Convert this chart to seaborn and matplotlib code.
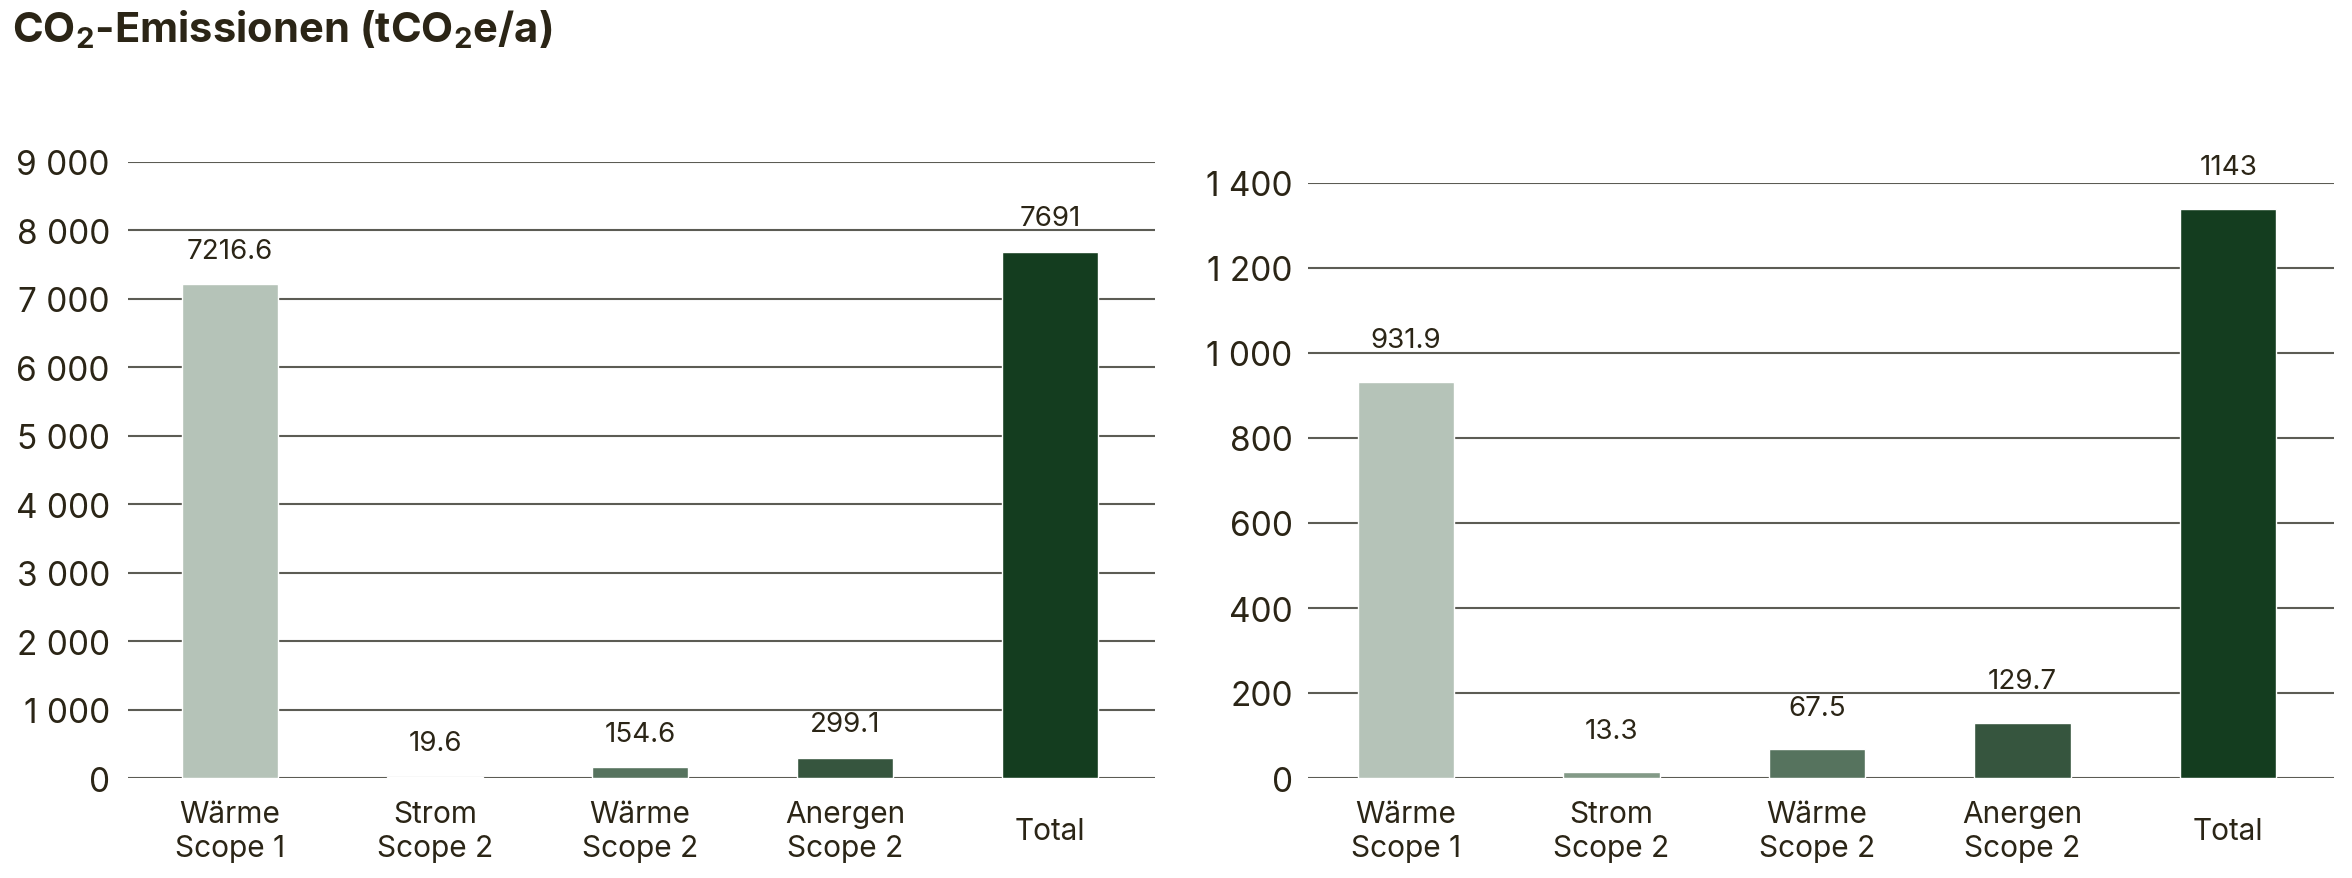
import matplotlib
matplotlib.use("Agg")
import matplotlib.pyplot as plt
import seaborn as sns
import pandas as pd
from matplotlib.ticker import FuncFormatter, MultipleLocator

# ---------------- data ----------------
categories = ["Wärme\nScope 1", "Strom\nScope 2", "Wärme\nScope 2", "Anergen\nScope 2", "Total"]
left_values = [7216.6, 19.6, 154.6, 299.1, 7691]
left_labels = ["7216.6", "19.6", "154.6", "299.1", "7691"]
right_values = [931.9, 13.3, 67.5, 129.7, 1340]
right_labels = ["931.9", "13.3", "67.5", "129.7", "1143"]
bar_colors = ["#b5c3b8", "#839a87", "#56735e", "#36553e", "#143d1f"]
title_text = r"CO$_\mathbf{2}$-Emissionen (tCO$_\mathbf{2}$e/a)"

TEXT = "#2b2516"
GRID = "#5c5c54"

sns.set_theme(style="white")
plt.rcParams["font.family"] = ["Inter", "Roboto", "DejaVu Sans"]
plt.rcParams["mathtext.fontset"] = "custom"
plt.rcParams["mathtext.rm"] = "Inter"
plt.rcParams["mathtext.bf"] = "Inter:bold"
plt.rcParams["text.color"] = TEXT
plt.rcParams["xtick.color"] = TEXT
plt.rcParams["ytick.color"] = TEXT

W, H = 2352, 879
fig = plt.figure(figsize=(W / 100, H / 100), dpi=100)
fig.patch.set_facecolor("white")


def px_axes(x0, x1, y0, y1):
    return fig.add_axes([x0 / W, 1 - y0 / H, (x1 - x0) / W, (y0 - y1) / H])


ax1 = px_axes(128, 1155, 779, 163)
ax2 = px_axes(1308, 2334, 779, 184)


def space_fmt(v, pos):
    return f"{int(round(v)):,}".replace(",", " ")


def draw(ax, values, labels, ymax, step, xlim, label_off, ypad):
    df = pd.DataFrame({"cat": categories, "val": values})
    sns.barplot(data=df, x="cat", y="val", hue="cat", palette=bar_colors,
                order=categories, hue_order=categories, width=0.468,
                legend=False, ax=ax, saturation=1, zorder=3)
    ax.set_ylim(0, ymax)
    ax.set_xlim(*xlim)
    ax.yaxis.set_major_locator(MultipleLocator(step))
    ax.yaxis.set_major_formatter(FuncFormatter(space_fmt))
    ax.grid(axis="y", color=GRID, linewidth=1.5, zorder=0)
    ax.grid(axis="x", visible=False)
    for s in ax.spines.values():
        s.set_visible(False)
    ax.set_xlabel("")
    ax.set_ylabel("")
    ax.set_facecolor("none")
    ax.tick_params(axis="y", length=0, pad=ypad, labelsize=24, labelcolor=TEXT)
    ax.tick_params(axis="x", length=0, pad=38, labelsize=21.5, labelcolor=TEXT)
    for lbl in ax.get_xticklabels():
        lbl.set_verticalalignment("center")
        lbl.set_linespacing(1.25)
    for i, (v, t) in enumerate(zip(values, labels)):
        ax.annotate(t, xy=(i, v), xytext=(0, label_off), textcoords="offset points",
                    ha="center", va="center", fontsize=20, color=TEXT,
                    annotation_clip=False)


draw(ax1, left_values, left_labels, 9000, 1000, (-0.498, 4.512), 24, 13)
draw(ax2, right_values, right_labels, 1400, 200, (-0.476, 4.515), 30, 11)

fig.text(12 / W, 1 - 8 / H, title_text, ha="left", va="top", fontsize=30,
         fontweight="bold", color=TEXT)

fig.savefig("out.png", dpi=100, facecolor="white")
